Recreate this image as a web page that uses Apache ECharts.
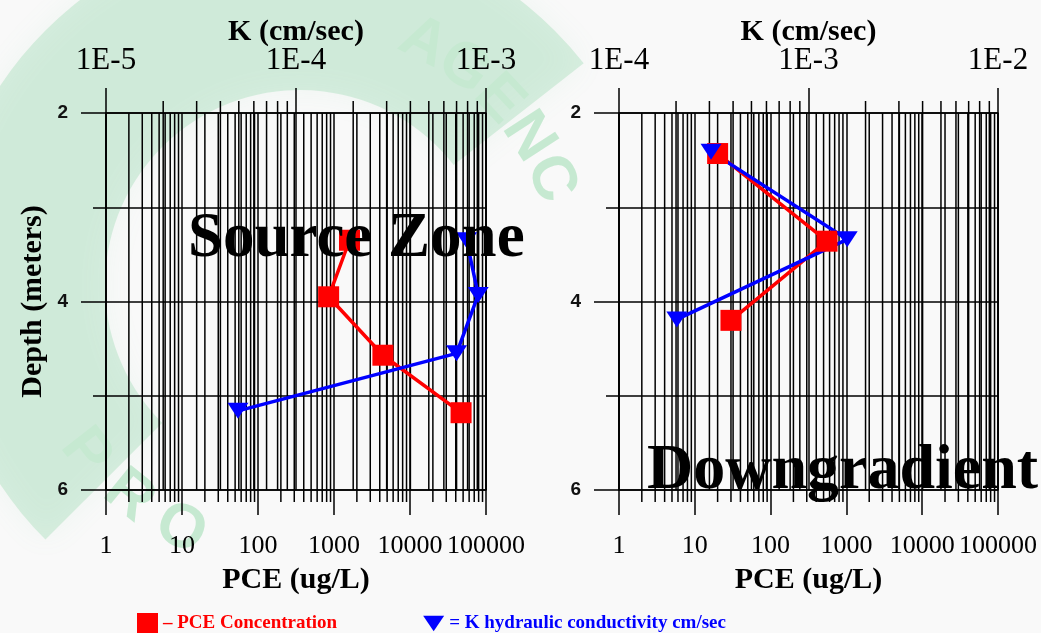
<!DOCTYPE html>
<html>
<head>
<meta charset="utf-8">
<script src="https://cdn.jsdelivr.net/npm/echarts@6/dist/echarts.min.js"></script>
<style>
  html, body { margin: 0; padding: 0; background: #f9f9f9; }
  #chart { width: 1041px; height: 633px; }
</style>
</head>
<body>
<div id="chart"></div>
<script>
// Source zone well: depth (m) with PCE (ug/L) and hydraulic conductivity K (cm/sec)
const sourcePceDepth = [3.35, 3.95, 4.57, 5.18];
const sourcePce = [1600, 850, 4400, 47000];
const sourceKDepth = [3.35, 3.93, 4.55, 5.16];
const sourceK = [7.9e-4, 9.1e-4, 7.0e-4, 4.95e-5];

// Downgradient well
const downPceDepth = [2.43, 3.36, 4.2];
const downPce = [20, 555, 30];
const downKDepth = [2.41, 3.34, 4.19];
const downK = [3.06e-4, 1.6e-3, 2.02e-4];

// Axis ranges
const depthRange = [2, 6];
const pceRange = [1, 100000];
const sourceKRange = [1e-5, 1e-3];
const downKRange = [1e-4, 1e-2];
const logSteps = [2, 3, 4, 5, 6, 7, 8, 9];

const SERIF = "'Liberation Serif', 'Times New Roman', serif";
const SANS = "'Liberation Sans', Arial, sans-serif";
const BLACK = '#000';
const RED = '#ff0000';
const BLUE = '#0000ff';

// In-between values of every decade of a log range (2..9 x 10^n)
function minorValues(range) {
  const out = [];
  let d = range[0];
  while (d < range[1] * 0.999) {
    logSteps.forEach(s => out.push(d * s));
    d *= 10;
  }
  return out;
}

const pceLabel = v => String(Math.round(v));
const kLabel = v => '1E' + Math.round(Math.log10(v));

// Minor log grid lines with a short tick outside the plot (down for PCE, up for K)
function minorGrid(xAxisIndex, yAxisIndex, range, tickDir) {
  return {
    type: 'custom',
    xAxisIndex, yAxisIndex,
    silent: true, clip: false, z: 1,
    data: minorValues(range).map(v => [v, depthRange[0]]),
    encode: { x: 0, y: 1 },
    renderItem(params, api) {
      const v = api.value(0);
      const top = api.coord([v, depthRange[0]]);
      const bot = api.coord([v, depthRange[1]]);
      const y1 = tickDir < 0 ? top[1] - 12 : top[1];
      const y2 = tickDir > 0 ? bot[1] + 12 : bot[1];
      return {
        type: 'line',
        shape: { x1: top[0], y1, x2: top[0], y2 },
        style: { stroke: BLACK, lineWidth: 1.5 }
      };
    }
  };
}

const lineStyleBlack = { color: BLACK, width: 1.5 };

function pceAxis(gridIndex) {
  return {
    gridIndex, type: 'log', logBase: 10, position: 'bottom',
    min: pceRange[0], max: pceRange[1],
    name: 'PCE (ug/L)', nameLocation: 'middle', nameGap: 75, nameMoveOverlap: false,
    nameTextStyle: { fontFamily: SERIF, fontWeight: 'bold', fontSize: 30, color: BLACK },
    axisLine: { show: true, lineStyle: lineStyleBlack },
    axisTick: { show: true, length: 25, lineStyle: lineStyleBlack },
    splitLine: { show: true, lineStyle: lineStyleBlack },
    axisLabel: { formatter: pceLabel, margin: 43, fontFamily: SERIF, fontSize: 26, color: BLACK, hideOverlap: false }
  };
}

function kAxis(gridIndex, range) {
  return {
    gridIndex, type: 'log', logBase: 10, position: 'top',
    min: range[0], max: range[1],
    name: 'K (cm/sec)', nameLocation: 'middle', nameGap: 66, nameMoveOverlap: false,
    nameTextStyle: { fontFamily: SERIF, fontWeight: 'bold', fontSize: 30, color: BLACK },
    axisLine: { show: true, lineStyle: lineStyleBlack },
    axisTick: { show: true, length: 25, lineStyle: lineStyleBlack },
    splitLine: { show: true, lineStyle: lineStyleBlack },
    axisLabel: { formatter: kLabel, margin: 37, fontFamily: SERIF, fontSize: 31, color: BLACK }
  };
}

function depthAxis(gridIndex, withName) {
  return {
    gridIndex, type: 'value', inverse: true,
    min: depthRange[0], max: depthRange[1], interval: 2,
    name: withName ? 'Depth (meters)' : '',
    nameLocation: 'middle', nameGap: 58, nameRotate: 90, nameMoveOverlap: false,
    nameTextStyle: { fontFamily: SERIF, fontWeight: 'bold', fontSize: 30, color: BLACK },
    axisLine: { show: true, lineStyle: lineStyleBlack },
    axisTick: { show: true, length: 25, lineStyle: lineStyleBlack },
    minorTick: { show: true, splitNumber: 2, length: 13, lineStyle: lineStyleBlack },
    splitLine: { show: true, lineStyle: lineStyleBlack },
    minorSplitLine: { show: true, lineStyle: lineStyleBlack },
    axisLabel: { margin: 38, fontFamily: SANS, fontWeight: 'bold', fontSize: 19, color: '#111' }
  };
}

const pair = (xs, ys) => xs.map((x, i) => [x, ys[i]]);

function pceSeries(xAxisIndex, yAxisIndex, values, depths) {
  return {
    name: 'PCE Concentration', type: 'line', xAxisIndex, yAxisIndex, z: 5,
    data: pair(values, depths),
    symbol: 'rect', symbolSize: 21,
    lineStyle: { color: RED, width: 3.5 },
    itemStyle: { color: RED },
    animation: false
  };
}

function kSeries(xAxisIndex, yAxisIndex, values, depths) {
  return {
    name: 'K hydraulic conductivity cm/sec', type: 'line', xAxisIndex, yAxisIndex, z: 5,
    data: pair(values, depths),
    symbol: 'triangle', symbolRotate: 180, symbolSize: [21, 16],
    lineStyle: { color: BLUE, width: 3.5 },
    itemStyle: { color: BLUE },
    animation: false
  };
}

// Faint seal watermark behind the left panel: a pale band and lettering along a circle
const SEAL = { cx: 300, cy: 285, r: 272 };
const deg = a => a * Math.PI / 180;
function sealLetters(text, startDeg, stepDeg, upright) {
  return text.split('').map((ch, i) => {
    const a = startDeg + i * stepDeg;
    const x = SEAL.cx + SEAL.r * Math.cos(deg(a));
    const y = SEAL.cy + SEAL.r * Math.sin(deg(a));
    const rot = upright ? -deg(a - 90) : -deg(a - 270);
    return {
      type: 'text', x, y, rotation: rot, z: -10, silent: true,
      style: { text: ch, font: 'bold 62px ' + SANS, fill: '#c6e9d1', align: 'center', verticalAlign: 'middle' }
    };
  });
}

const watermark = [
  {
    type: 'sector', z: -20, silent: true,
    shape: { cx: SEAL.cx, cy: SEAL.cy, r0: 195, r: 360, startAngle: deg(135), endAngle: deg(322) },
    style: { fill: 'rgba(120, 205, 150, 0.26)', shadowBlur: 30, shadowColor: 'rgba(120, 205, 150, 0.3)' }
  },
  ...sealLetters('PRO', 142, -13, true),
  ...sealLetters('AGENC', 297, 10, false)
];

const chart = echarts.init(document.getElementById('chart'), null, { renderer: 'canvas' });

chart.setOption({
  backgroundColor: '#f9f9f9',
  animation: false,
  grid: [
    { left: 106, top: 113, width: 380, height: 377 },
    { left: 619, top: 113, width: 379, height: 377 }
  ],
  xAxis: [
    pceAxis(0),
    kAxis(0, sourceKRange),
    pceAxis(1),
    kAxis(1, downKRange)
  ],
  yAxis: [
    depthAxis(0, true),
    depthAxis(1, false)
  ],
  legend: {
    left: 132, top: 608,
    itemWidth: 21, itemHeight: 21, itemGap: 86,
    selectedMode: false,
    formatter: name => (name === 'PCE Concentration' ? '\u2013 ' : '= ') + name,
    textStyle: { fontFamily: SERIF, fontWeight: 'bold', fontSize: 19 },
    data: [
      { name: 'PCE Concentration', icon: 'rect', itemStyle: { color: RED }, textStyle: { color: RED } },
      { name: 'K hydraulic conductivity cm/sec', icon: 'path://M0,0 L22,0 L11,16 Z', itemStyle: { color: BLUE }, textStyle: { color: BLUE } }
    ]
  },
  graphic: [
    ...watermark,
    {
      type: 'text', left: 188, top: 208, z: 100, silent: true,
      style: { text: 'Source Zone', font: 'bold 63px ' + SERIF, fill: BLACK }
    },
    {
      type: 'text', left: 647, top: 439, z: 100, silent: true,
      style: { text: 'Downgradient', font: 'bold 64px ' + SERIF, fill: BLACK }
    }
  ],
  series: [
    minorGrid(0, 0, pceRange, 1),
    minorGrid(1, 0, sourceKRange, -1),
    minorGrid(2, 1, pceRange, 1),
    minorGrid(3, 1, downKRange, -1),
    pceSeries(0, 0, sourcePce, sourcePceDepth),
    kSeries(1, 0, sourceK, sourceKDepth),
    pceSeries(2, 1, downPce, downPceDepth),
    kSeries(3, 1, downK, downKDepth)
  ]
});
</script>
</body>
</html>
